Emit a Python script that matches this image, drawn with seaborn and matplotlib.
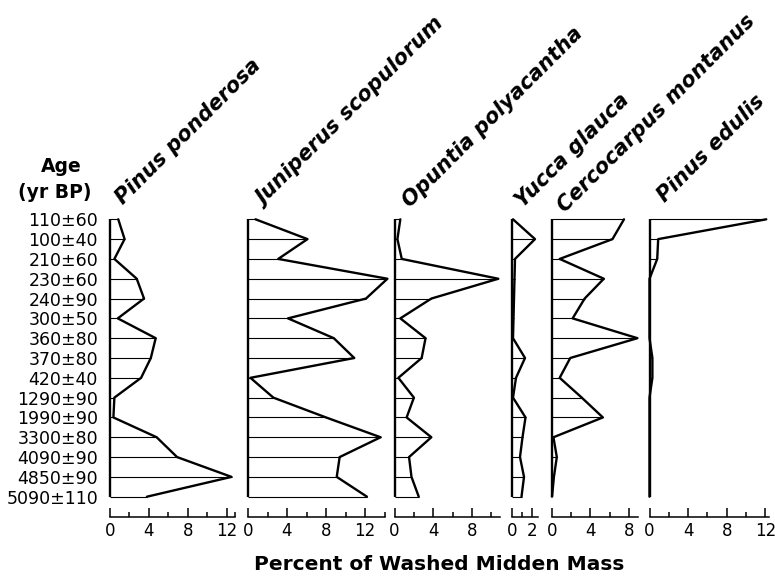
import numpy as np
import pandas as pd
import seaborn as sns
import matplotlib.pyplot as plt

sns.set_style('white')
plt.rcParams['font.family'] = ['DejaVu Sans']
plt.rcParams['text.color'] = 'black'
plt.rcParams['xtick.color'] = 'black'
plt.rcParams['ytick.color'] = 'black'

ages = ['110±60', '100±40', '210±60', '230±60', '240±90', '300±50', '360±80', '370±80',
        '420±40', '1290±90', '1990±90', '3300±80', '4090±90', '4850±90', '5090±110']

taxa = ['Pinus ponderosa', 'Juniperus scopulorum', 'Opuntia polyacantha',
        'Yucca glauca', 'Cercocarpus montanus', 'Pinus edulis']

pinus_ponderosa = [0.85, 1.5, 0.45, 2.75, 3.5, 0.8, 4.7, 4.2, 3.2, 0.45, 0.35, 4.8, 6.9, 12.5, 3.8]
juniperus = [0.77, 6.1, 3.1, 14.3, 12.1, 4.1, 8.8, 10.9, 0.25, 2.6, 8.0, 13.6, 9.4, 9.1, 12.2]
opuntia = [0.6, 0.3, 0.75, 10.7, 3.8, 0.6, 3.2, 2.8, 0.4, 2.0, 1.25, 3.8, 1.5, 1.75, 2.5]
yucca = [0.1, 2.3, 0.3, 0.25, 0.2, 0.15, 0.1, 1.3, 0.4, 0.1, 1.35, 1.05, 0.8, 1.2, 0.95]
cercocarpus = [7.5, 6.3, 0.8, 5.4, 3.4, 2.15, 8.9, 1.9, 0.8, 3.1, 5.3, 0.15, 0.5, 0.2, 0.0]
pinus_edulis = [12.1, 0.9, 0.8, 0, 0, 0, 0, 0.3, 0.3, 0, 0, 0, 0, 0, 0]

series = [pinus_ponderosa, juniperus, opuntia, yucca, cercocarpus, pinus_edulis]

# panel layout in pixels: left edge, px per unit, axis end
lefts = [110, 248, 394.5, 512, 552, 649.5]
scales = [9.72, 9.75, 9.7, 10.0, 9.6, 9.65]
xends = [12.9, 14, 10.9, 2.6, 9.0, 12.4]
majors = [[0, 4, 8, 12], [0, 4, 8, 12], [0, 4, 8], [0, 2], [0, 4, 8], [0, 4, 8, 12]]
minors = [[2, 6, 10, 12.9], [2, 6, 10, 14], [2, 6, 10], [1], [2, 6], [2, 6, 10]]
title_pos = [(123, 205), (265, 207), (410, 208), (523, 208), (565, 213), (665, 203)]

W, H = 775, 577
fig = plt.figure(figsize=(W / 100, H / 100), dpi=100)

rows = np.arange(len(ages))
top, bot = 219.3, 496.7

for i in range(6):
    ax = fig.add_axes([lefts[i] / W, 1 - bot / H, xends[i] * scales[i] / W, (bot - top) / H])
    vals = series[i]
    df = pd.DataFrame({'v': vals, 'r': rows})
    ax.hlines(rows, 0, vals, color='black', lw=0.8, clip_on=False)
    sns.lineplot(data=df, x='v', y='r', sort=False, estimator=None, color='black',
                 lw=1.7, ax=ax, clip_on=False)
    ax.vlines(0, 0, rows[-1], color='black', lw=1.7, clip_on=False)
    ax.set_xlim(0, xends[i])
    ax.set_ylim(rows[-1], 0)
    for s in ['top', 'right', 'left']:
        ax.spines[s].set_visible(False)
    ax.spines['bottom'].set_position(('outward', 14.4))
    ax.spines['bottom'].set_linewidth(1.1)
    ax.spines['bottom'].set_color('black')
    ax.set_xticks(majors[i])
    ax.set_xticks(minors[i], minor=True)
    ax.tick_params(axis='x', which='major', direction='in', length=6.5, width=1.1,
                   labelsize=12, pad=4, bottom=True)
    ax.tick_params(axis='x', which='minor', direction='in', length=3.5, width=1.1, bottom=True)
    ax.set_xlabel('')
    ax.set_ylabel('')
    if i == 0:
        ax.set_yticks(rows)
        ax.set_yticklabels(ages, fontsize=12.5)
        ax.tick_params(axis='y', length=0, pad=8.6)
    else:
        ax.set_yticks([])
    tx, ty = title_pos[i]
    fig.text(tx / W, 1 - ty / H, taxa[i], rotation=45, rotation_mode='anchor',
             ha='left', va='baseline', fontsize=15, fontweight='bold', fontstyle='italic')

fig.text(61 / W, 1 - 167 / H, 'Age', ha='center', va='center', fontsize=13.5, fontweight='bold')
fig.text(55 / W, 1 - 192 / H, '(yr BP)', ha='center', va='center', fontsize=13.5, fontweight='bold')
fig.text(439 / W, 1 - 565 / H, 'Percent of Washed Midden Mass', ha='center', va='center',
         fontsize=14.5, fontweight='bold')

fig.savefig('out.png', dpi=100)
